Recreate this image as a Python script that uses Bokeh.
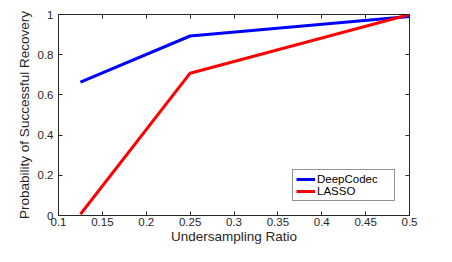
from bokeh.plotting import figure
from bokeh.models import LinearAxis, FixedTicker, Range1d, Legend, LegendItem
from bokeh.embed import file_html
from bokeh.resources import INLINE

ratios = [0.125, 0.25, 0.5]
deepcodec = [0.664, 0.893, 0.99]
lasso = [0.006, 0.708, 1.0]
x_ticks = [0.1, 0.15, 0.2, 0.25, 0.3, 0.35, 0.4, 0.45, 0.5]
y_ticks = [0, 0.2, 0.4, 0.6, 0.8, 1]

FONT = "Liberation Sans"
TXT = "#262626"

p = figure(width=436, height=246, output_backend="svg", toolbar_location=None,
           x_range=Range1d(0.1, 0.5), y_range=Range1d(0, 1),
           min_border_left=58, min_border_right=27, min_border_top=14, min_border_bottom=0,
           x_axis_label="Undersampling Ratio",
           y_axis_label="Probability of Successful Recovery")
p.grid.visible = False
p.outline_line_color = TXT
p.outline_line_width = 1
p.background_fill_color = "white"
p.border_fill_color = "white"

r1 = p.line(ratios, deepcodec, line_color="#0000ff", line_width=3)
r2 = p.line(ratios, lasso, line_color="#ff0000", line_width=3)


def style(ax, ticks, labels=True):
    ax.ticker = FixedTicker(ticks=ticks)
    ax.major_tick_in = 4
    ax.major_tick_out = 0
    ax.minor_tick_line_color = None
    ax.axis_line_color = TXT
    ax.major_tick_line_color = TXT
    ax.major_label_text_font = FONT
    ax.major_label_text_color = TXT
    ax.axis_label_text_font = FONT
    ax.axis_label_text_color = TXT
    ax.axis_label_text_font_style = "normal"
    ax.axis_label_text_font_size = "13.5px"
    ax.major_label_text_font_size = "11.5px"
    ax.major_label_standoff = 2
    if not labels:
        ax.major_label_overrides = {t: "" for t in ticks}
        ax.major_label_standoff = 0


style(p.xaxis[0], x_ticks)
style(p.yaxis[0], y_ticks)
p.xaxis[0].axis_label_standoff = 0
p.yaxis[0].axis_label_standoff = 3
p.yaxis[0].major_label_standoff = 5

top = LinearAxis()
style(top, x_ticks, labels=False)
p.add_layout(top, "above")
right = LinearAxis()
style(right, y_ticks, labels=False)
p.add_layout(right, "right")

legend = Legend(items=[LegendItem(label="DeepCodec", renderers=[r1]),
                       LegendItem(label="LASSO", renderers=[r2])],
                location="bottom_right")
legend.margin = 14
legend.padding = 3
legend.spacing = 0
legend.glyph_width = 19
legend.glyph_height = 10
legend.label_height = 10
legend.label_width = 74
legend.label_standoff = 2
legend.label_text_font = FONT
legend.label_text_font_size = "11.5px"
legend.label_text_color = "black"
legend.border_line_color = TXT
legend.border_line_width = 1
legend.background_fill_color = "white"
legend.background_fill_alpha = 1
p.add_layout(legend, "center")

open("out.html", "w").write(file_html(p, INLINE))
